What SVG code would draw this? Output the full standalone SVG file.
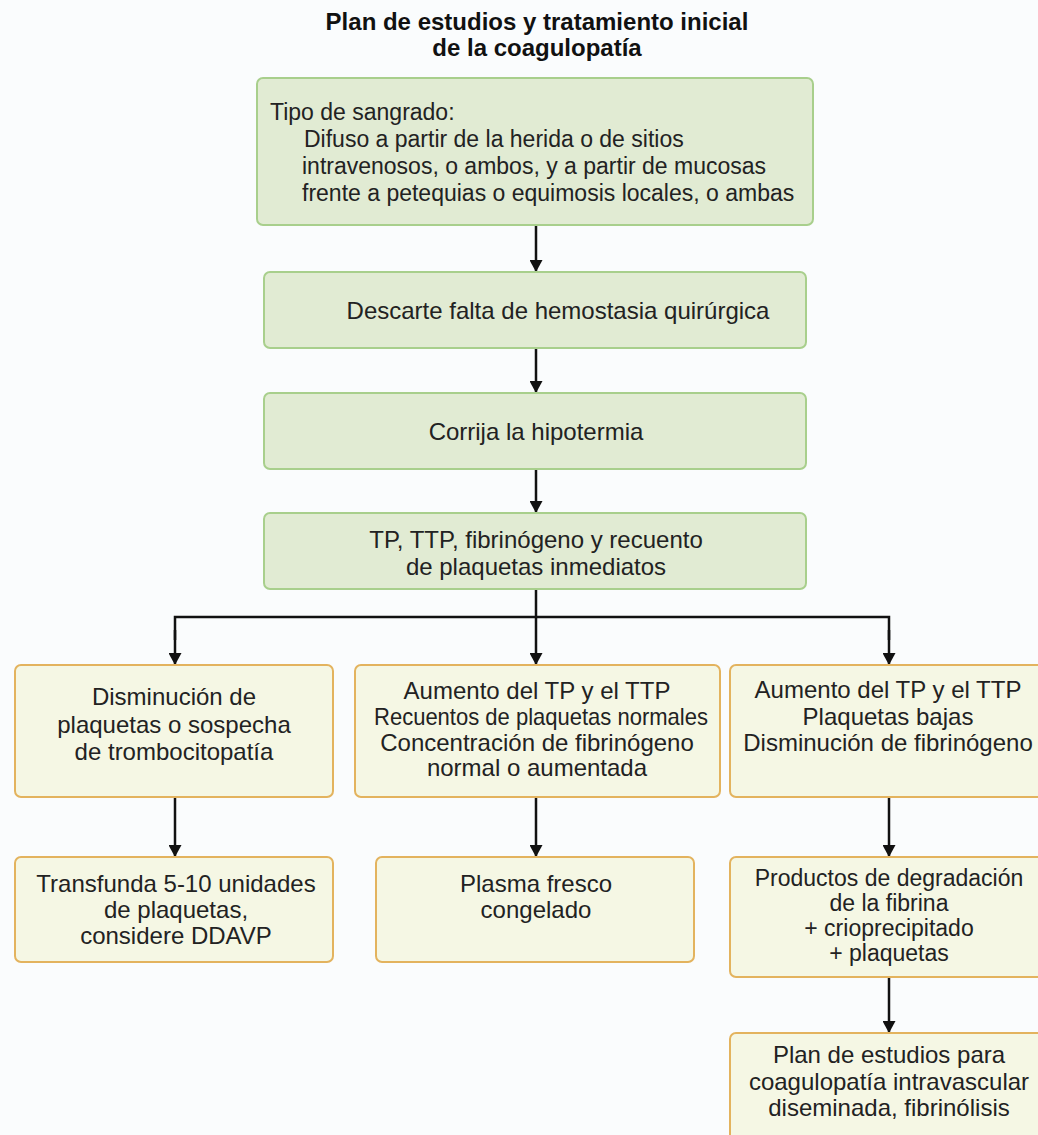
<svg xmlns="http://www.w3.org/2000/svg" width="1038" height="1135" viewBox="0 0 1038 1135">
<defs>
<marker id="ah" markerWidth="12" markerHeight="13" refX="10" refY="5" orient="auto" markerUnits="userSpaceOnUse" viewBox="0 0 10 10" preserveAspectRatio="none">
<path d="M0,0 L10,5 L0,10 Z" fill="#111"/>
</marker>
</defs>
<style>
text{font-family:"Liberation Sans",Arial,sans-serif;font-size:24px;fill:#222}
.t{font-weight:bold;font-size:24px;text-anchor:middle;fill:#111}
.c{text-anchor:middle}
.s{font-size:23px}
.g{fill:#e1ebd3;stroke:#a8cf8c;stroke-width:2}
.y{fill:#f5f7e4;stroke:#e3b35e;stroke-width:2}
.ln{fill:none;stroke:#111;stroke-width:2.5}
</style>
<rect width="1038" height="1135" fill="#fafcfd"/>
<g id="title">
<text class="t" x="537" y="30">Plan de estudios y tratamiento inicial</text>
<text class="t" x="537" y="56">de la coagulopatía</text>
</g>
<g id="connectors">
<line class="ln" x1="536" y1="225" x2="536" y2="272" marker-end="url(#ah)"/>
<line class="ln" x1="536" y1="348" x2="536" y2="393" marker-end="url(#ah)"/>
<line class="ln" x1="536" y1="469" x2="536" y2="513" marker-end="url(#ah)"/>
<line class="ln" x1="536" y1="589" x2="536" y2="665" marker-end="url(#ah)"/>
<path class="ln" d="M175,640 L175,617 L889,617 L889,640"/>
<line class="ln" x1="175" y1="630" x2="175" y2="665" marker-end="url(#ah)"/>
<line class="ln" x1="889" y1="630" x2="889" y2="665" marker-end="url(#ah)"/>
<line class="ln" x1="175" y1="797" x2="175" y2="857" marker-end="url(#ah)"/>
<line class="ln" x1="536" y1="797" x2="536" y2="857" marker-end="url(#ah)"/>
<line class="ln" x1="889" y1="797" x2="889" y2="857" marker-end="url(#ah)"/>
<line class="ln" x1="889" y1="977" x2="889" y2="1033" marker-end="url(#ah)"/>
</g>
<g id="n1">
<rect class="g" x="257" y="78" width="556" height="147" rx="6"/>
<text class="s" x="270" y="120">Tipo de sangrado:</text>
<text class="s" x="304" y="147">Difuso a partir de la herida o de sitios</text>
<text class="s" x="302" y="174">intravenosos, o ambos, y a partir de mucosas</text>
<text class="s" x="302" y="201">frente a petequias o equimosis locales, o ambas</text>
</g>
<g id="n2">
<rect class="g" x="264" y="272" width="542" height="76" rx="6"/>
<text class="c" x="558" y="319">Descarte falta de hemostasia quirúrgica</text>
</g>
<g id="n3">
<rect class="g" x="264" y="393" width="542" height="76" rx="6"/>
<text class="c" x="536" y="440">Corrija la hipotermia</text>
</g>
<g id="n4">
<rect class="g" x="264" y="513" width="542" height="76" rx="6"/>
<text class="c" x="536" y="548">TP, TTP, fibrinógeno y recuento</text>
<text class="c" x="536" y="575">de plaquetas inmediatos</text>
</g>
<g id="a1">
<rect class="y" x="15" y="665" width="318" height="132" rx="6"/>
<text class="c" x="174" y="705">Disminución de</text>
<text class="c" x="174" y="733">plaquetas o sospecha</text>
<text class="c" x="174" y="760">de trombocitopatía</text>
</g>
<g id="b1">
<rect class="y" x="355" y="665" width="365" height="132" rx="6"/>
<text class="c" x="537" y="699">Aumento del TP y el TTP</text>
<text class="c" x="541" y="725" textLength="334" lengthAdjust="spacingAndGlyphs">Recuentos de plaquetas normales</text>
<text class="c" x="537" y="751">Concentración de fibrinógeno</text>
<text class="c" x="537" y="776">normal o aumentada</text>
</g>
<g id="c1">
<rect class="y" x="730" y="665" width="320" height="132" rx="6"/>
<text class="c" x="888" y="698">Aumento del TP y el TTP</text>
<text class="c" x="888" y="725">Plaquetas bajas</text>
<text class="c" x="888" y="751">Disminución de fibrinógeno</text>
</g>
<g id="a2">
<rect class="y" x="15" y="857" width="318" height="105" rx="6"/>
<text class="c" x="176" y="892">Transfunda 5-10 unidades</text>
<text class="c" x="176" y="918">de plaquetas,</text>
<text class="c" x="176" y="944">considere DDAVP</text>
</g>
<g id="b2">
<rect class="y" x="376" y="857" width="318" height="105" rx="6"/>
<text class="c" x="536" y="892">Plasma fresco</text>
<text class="c" x="536" y="918">congelado</text>
</g>
<g id="c2">
<rect class="y" x="730" y="857" width="320" height="120" rx="6"/>
<text class="c s" x="889" y="886">Productos de degradación</text>
<text class="c s" x="889" y="911">de la fibrina</text>
<text class="c s" x="889" y="936">+ crioprecipitado</text>
<text class="c s" x="889" y="961">+ plaquetas</text>
</g>
<g id="c3">
<rect class="y" x="730" y="1033" width="320" height="110" rx="6"/>
<text class="c" x="889" y="1063">Plan de estudios para</text>
<text class="c" x="889" y="1090">coagulopatía intravascular</text>
<text class="c" x="889" y="1116">diseminada, fibrinólisis</text>
</g>
</svg>
